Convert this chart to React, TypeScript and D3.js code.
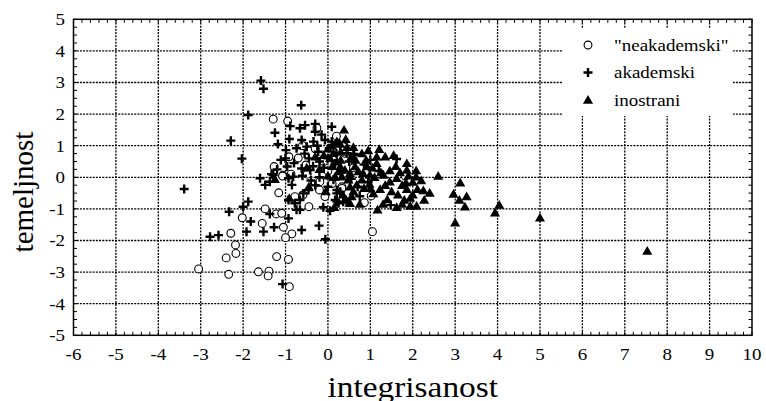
import * as React from "react";
import * as d3 from "d3";

type Pt = [number, number]; // [integrisanost, temeljnost]

const X_TICKS = d3.range(-6, 11, 1);
const Y_TICKS = d3.range(-5, 6, 1);

const SERIES_NAMES = ['"neakademski"', "akademski", "inostrani"];

// open circles
const NEAKADEMSKI: Pt[] = [
  [-1.29, 1.84], [-0.95, 1.78], [-0.26, 1.56], [-0.92, 0.65], [-0.7, 0.61], [-1.27, 0.34],
  [-1.06, 0.07], [-0.52, 0.39], [0.4, 0.95], [-1.07, 0.04], [-0.87, 0.1], [-0.49, 0.1],
  [-1.16, -0.49], [-0.78, -0.61], [-0.59, -0.56], [-0.45, -0.93], [-0.07, -0.61], [0.33, -0.3],
  [-0.19, -0.14], [-1.48, -1.0], [-1.22, -1.16], [-1.09, -1.14], [-2.02, -1.28], [-1.55, -1.46],
  [-1.05, -1.58], [-0.85, -1.79], [-1.0, -1.91], [-2.29, -1.77], [-2.18, -2.14], [-2.17, -2.41],
  [-2.4, -2.55], [-1.21, -2.51], [-0.93, -2.6], [-3.05, -2.9], [-2.34, -3.07], [-1.64, -2.99],
  [-1.39, -2.97], [-1.41, -3.12], [-0.91, -3.46], [0.36, 0.97], [0.4, 0.76], [0.33, -0.35],
  [1.02, -0.59], [0.86, -0.8], [1.82, 0.04], [1.05, -1.72], [-0.1, 0.5], [0.0, 0.2],
  [-0.3, 0.9], [0.2, 1.3], [-0.6, 1.0], [0.6, 0.3], [0.1, -0.2], [-0.2, -0.4],
];

// crosses
const AKADEMSKI: Pt[] = [
  [-1.58, 3.06], [-1.52, 2.8], [-0.63, 2.28], [-1.88, 1.97], [-2.29, 1.16], [-2.03, 0.59],
  [-1.25, 1.41], [-0.91, 1.21], [-1.18, 1.05], [-0.99, 0.86], [-0.89, 1.62], [-0.66, 1.55],
  [-0.54, 1.65], [-0.3, 1.69], [-0.3, 1.44], [0.09, 1.6], [-0.62, 1.18], [-0.74, 0.92],
  [-0.5, 0.97], [-0.34, 1.13], [-0.23, 0.81], [0.03, 0.92], [-0.07, 1.18], [-1.11, 0.55],
  [-0.96, 0.34], [-1.29, 0.07], [-1.6, -0.03], [0.6, 0.71], [-0.62, 0.28], [-0.42, 0.23],
  [-0.82, 0.02], [-1.48, -0.24], [-1.33, 0.1], [-1.37, -0.14], [-0.85, -0.24], [-0.93, -0.03],
  [-0.58, -0.51], [-0.46, -0.4], [-0.66, -0.72], [-0.78, -0.82], [-0.66, -1.03], [-0.74, -1.03],
  [-0.93, -0.72], [-1.88, -0.77], [-2.0, -0.93], [-2.33, -1.09], [-1.37, -1.16], [-0.93, -1.3],
  [-1.82, -1.4], [-1.92, -1.72], [-1.52, -1.72], [-1.27, -1.58], [-0.62, -1.67], [-0.21, -1.53],
  [-0.06, -1.96], [-2.78, -1.88], [-2.58, -1.83], [-0.11, -0.95], [0.05, -1.06], [0.21, -0.77],
  [0.44, -0.77], [0.21, -0.51], [0.29, -0.46], [-1.07, -3.38], [-3.39, -0.37], [0.09, 1.13],
  [0.29, 0.97], [0.62, 0.74], [0.44, 0.76], [0.17, 0.44], [0.13, -0.08], [0.21, -0.4],
  [0.17, -0.72], [0.36, -0.77], [0.25, -0.82], [1.62, 0.58], [1.48, -0.88], [-0.45, 0.6],
  [-0.2, 0.5], [0.0, 0.6], [-0.35, 0.35], [-0.1, 0.3], [-0.55, 0.75], [-0.8, 0.45],
  [-0.4, -0.1], [-0.2, 0.0], [0.0, -0.3], [0.3, 0.15], [0.5, 0.5], [0.7, -0.3],
  [0.85, 0.4], [1.0, 0.55], [0.75, -0.6], [-0.25, 1.0], [-0.15, 1.35], [0.2, 0.75],
  [-0.6, 0.05], [-0.3, -0.25], [0.55, -0.05], [1.2, 0.2], [0.95, -0.15], [-1.0, 0.6],
  [-1.2, 0.25],
];

// filled triangles
const INOSTRANI: Pt[] = [
  [0.38, 1.5], [0.42, 1.2], [0.27, 1.09], [1.21, 0.89], [1.35, 0.65], [1.15, 0.65],
  [1.15, 0.44], [1.86, 0.44], [1.86, 0.23], [2.08, 0.21], [2.08, 0.02], [2.6, 0.04],
  [1.46, 0.21], [1.31, 0.07], [1.46, -0.14], [1.62, -0.03], [1.84, -0.17], [1.86, -0.38],
  [2.11, -0.38], [2.25, -0.42], [1.94, -0.66], [2.27, -0.72], [1.8, -0.72], [1.94, -0.91],
  [2.09, -0.91], [1.62, -0.95], [1.17, -1.03], [1.23, -0.38], [0.98, -0.21], [1.07, -0.51],
  [3.12, -0.17], [2.96, -0.53], [3.1, -0.72], [3.27, -0.61], [3.23, -0.93], [3.0, -1.44],
  [0.52, -0.82], [0.43, -0.72], [0.56, -0.61], [4.04, -0.88], [3.94, -1.12], [5.0, -1.28],
  [7.53, -2.33], [0.21, 1.13], [0.13, 0.76], [0.05, 0.6], [0.21, 0.49], [0.29, 0.34],
  [0.4, 0.23], [0.52, 0.13], [0.64, 0.34], [0.72, 0.18], [0.83, 0.13], [0.92, 0.34],
  [0.99, 0.07], [0.8, -0.08], [0.68, -0.24], [0.52, -0.3], [0.48, -0.08], [0.33, 0.02],
  [0.25, 0.18], [0.17, 0.02], [-1.25, -0.06], [-0.91, -0.66], [0.0, 0.9], [0.1, 1.0],
  [0.3, 0.8], [0.45, 0.95], [0.55, 0.65], [0.65, 0.55], [0.8, 0.75], [0.9, 0.55],
  [1.05, 0.3], [1.1, 0.0], [1.25, 0.15], [1.35, -0.25], [1.5, -0.45], [1.6, 0.35],
  [1.7, 0.15], [1.65, -0.55], [1.4, -0.7], [1.0, -0.35], [0.85, -0.35], [0.6, -0.45],
  [0.35, -0.55], [0.1, 0.35], [-0.1, 0.7], [-0.2, 0.25], [0.0, 0.05], [-0.05, -0.45],
  [0.15, -0.95], [0.75, -0.85], [1.3, -0.85], [2.0, -0.15], [1.75, -0.25], [0.6, 0.95],
  [0.3, 0.55], [1.55, 0.7], [1.75, -0.85], [-0.3, 0.65], [-0.5, 0.3], [-0.45, -0.3],
  [0.95, 0.85], [1.9, 0.05], [2.2, -0.1], [2.0, -0.55], [2.4, -0.5],
];

const W = 766;
const H = 401;
const M = { left: 73.5, right: 14, top: 19.3, bottom: 65.7 };
const FONT = "'Liberation Serif', 'Times New Roman', serif";
const STRETCH = 1.15; // original picture is a bit wider than tall

function drawCircle(g: d3.Selection<SVGGElement, unknown, null, undefined>, x: number, y: number) {
  g.append("circle").attr("cx", x).attr("cy", y).attr("r", 3.9)
    .attr("fill", "#fff").attr("stroke", "#000").attr("stroke-width", 1.1);
}

function drawPlus(g: d3.Selection<SVGGElement, unknown, null, undefined>, x: number, y: number) {
  g.append("path")
    .attr("d", `M${x - 4.5},${y}H${x + 4.5}M${x},${y - 4.5}V${y + 4.5}`)
    .attr("stroke", "#000").attr("stroke-width", 2.4);
}

const tri = d3.symbol().type(d3.symbolTriangle).size(44);
function drawTriangle(g: d3.Selection<SVGGElement, unknown, null, undefined>, x: number, y: number) {
  g.append("path").attr("d", tri()!).attr("transform", `translate(${x},${y + 0.8})`).attr("fill", "#000");
}

export default function App() {
  const ref = React.useRef<SVGSVGElement | null>(null);

  React.useEffect(() => {
    if (!ref.current) return;
    const svg = d3.select(ref.current);
    svg.selectAll("*").remove();

    const x = d3.scaleLinear().domain([-6, 10]).range([M.left, W - M.right]);
    const y = d3.scaleLinear().domain([-5, 5]).range([H - M.bottom, M.top]);
    const [x0, x1] = x.range();
    const [y0, y1] = [y(5), y(-5)];

    const g = svg.append("g");

    // dotted grid
    const grid = g.append("g").attr("stroke", "#000").attr("stroke-width", 1.3).attr("stroke-dasharray", "2,1.2");
    X_TICKS.slice(1, -1).forEach((t) => {
      grid.append("line").attr("x1", x(t)).attr("x2", x(t)).attr("y1", y0).attr("y2", y1);
    });
    Y_TICKS.slice(1, -1).forEach((t) => {
      grid.append("line").attr("y1", y(t)).attr("y2", y(t)).attr("x1", x0).attr("x2", x1);
    });

    // minor ticks on all four sides, pointing inward
    const ticks = g.append("g").attr("stroke", "#000").attr("stroke-width", 1);
    d3.range(-6, 10.001, 0.2).forEach((t) => {
      ticks.append("line").attr("x1", x(t)).attr("x2", x(t)).attr("y1", y1).attr("y2", y1 - 3.5);
      ticks.append("line").attr("x1", x(t)).attr("x2", x(t)).attr("y1", y0).attr("y2", y0 + 3.5);
    });
    d3.range(-5, 5.001, 0.25).forEach((t) => {
      ticks.append("line").attr("y1", y(t)).attr("y2", y(t)).attr("x1", x0).attr("x2", x0 + 3.5);
      ticks.append("line").attr("y1", y(t)).attr("y2", y(t)).attr("x1", x1).attr("x2", x1 - 3.5);
    });

    // points
    const pts = g.append("g");
    NEAKADEMSKI.forEach(([a, b]) => drawCircle(pts, x(a), y(b)));
    AKADEMSKI.forEach(([a, b]) => drawPlus(pts, x(a), y(b)));
    INOSTRANI.forEach(([a, b]) => drawTriangle(pts, x(a), y(b)));

    // legend box (covers the grid)
    const lg = g.append("g");
    lg.append("rect").attr("x", 563).attr("y", 28).attr("width", 170).attr("height", 88).attr("fill", "#fff");
    const drawers = [drawCircle, drawPlus, drawTriangle];
    SERIES_NAMES.forEach((name, i) => {
      const ly = 45 + i * 27.5;
      drawers[i](lg, 588, ly);
      lg.append("text")
        .attr("transform", `translate(614,${ly + 5.5}) scale(${STRETCH},1)`)
        .attr("font-family", FONT).attr("font-size", 16.5).attr("fill", "#000")
        .text(name);
    });

    // frame
    g.append("rect").attr("x", x0).attr("y", y0).attr("width", x1 - x0).attr("height", y1 - y0)
      .attr("fill", "none").attr("stroke", "#000").attr("stroke-width", 1.5);

    // tick labels
    X_TICKS.forEach((t) => {
      g.append("text")
        .attr("transform", `translate(${x(t)},360) scale(${STRETCH},1)`)
        .attr("text-anchor", "middle").attr("font-family", FONT).attr("font-size", 16.5)
        .text(String(t));
    });
    Y_TICKS.forEach((t) => {
      g.append("text")
        .attr("transform", `translate(65,${y(t) + 5.8}) scale(${STRETCH},1)`)
        .attr("text-anchor", "end").attr("font-family", FONT).attr("font-size", 16.5)
        .text(String(t));
    });

    // axis titles
    g.append("text")
      .attr("transform", `translate(${(x0 + x1) / 2},397) scale(${STRETCH},1)`)
      .attr("text-anchor", "middle").attr("font-family", FONT).attr("font-size", 29)
      .text("integrisanost");
    g.append("text")
      .attr("transform", `translate(33,192) rotate(-90)`)
      .attr("text-anchor", "middle").attr("font-family", FONT).attr("font-size", 29)
      .text("temeljnost");
  }, []);

  return (
    <svg
      ref={ref}
      width={W}
      height={H}
      style={{ position: "absolute", left: 0, top: 0, background: "#fff" }}
    />
  );
}
